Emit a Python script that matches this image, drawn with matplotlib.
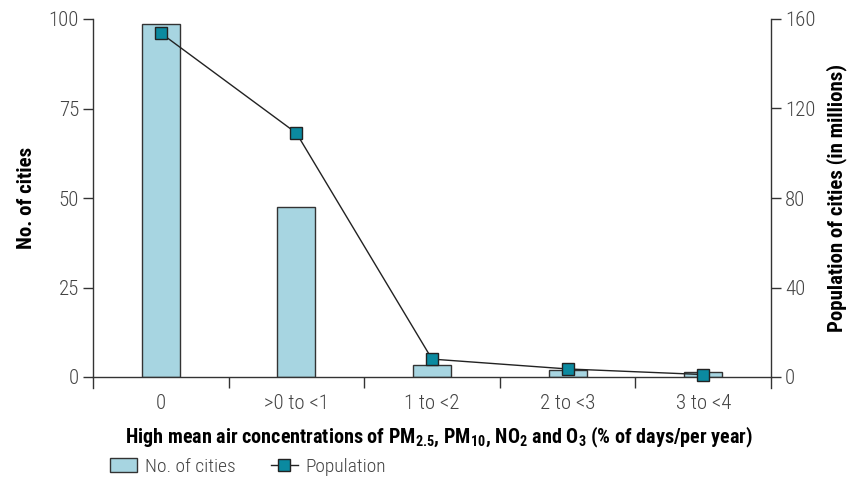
import matplotlib.pyplot as plt

# fuentes condensadas, con DejaVu como respaldo
plt.rcParams['font.family'] = ['Roboto Condensed', 'Open Sans Condensed', 'Barlow Semi Condensed',
                               'Liberation Sans Narrow', 'DejaVu Sans']
plt.rcParams['font.stretch'] = 'condensed'
plt.rcParams['mathtext.default'] = 'regular'

categories = ['0', '>0 to <1', '1 to <2', '2 to <3', '3 to <4']
cities = [98.5, 47.5, 3.4, 2.0, 1.4]
population = [153.7, 109.0, 8.0, 3.6, 1.1]

bar_color = '#a7d5e1'
marker_color = '#0b8aa0'
edge = '#333333'
tick_col = '#444444'

fig = plt.figure(figsize=(8.49, 4.8), dpi=100)
ax = fig.add_axes([93/849, 1 - 377/480, (771 - 93)/849, 358/480])
ax2 = ax.twinx()

x = range(len(categories))
bars = ax.bar(x, cities, width=0.28, color=bar_color, edgecolor=edge, linewidth=1, label='No. of cities')
line, = ax2.plot(x, population, color='#222222', linewidth=1, marker='s', markersize=8,
                 markerfacecolor=marker_color, markeredgecolor='#222222', markeredgewidth=1,
                 label='Population', clip_on=False)

ax.set_xlim(-0.5, 4.5)
ax.set_ylim(0, 100)
ax2.set_ylim(0, 160)
ax.set_yticks([0, 25, 50, 75, 100])
ax2.set_yticks([0, 40, 80, 120, 160])

# etiquetas en el centro, marcas en los limites
ax.set_xticks(list(x))
ax.set_xticklabels(categories)
ax.set_xticks([0.5, 1.5, 2.5, 3.5], minor=True)
ax.tick_params(axis='x', which='major', length=0, pad=12, labelsize=15, labelcolor=tick_col)
ax.tick_params(axis='x', which='minor', length=8, width=1, color=edge, direction='out')
ax.tick_params(axis='y', length=7, width=1, color=edge, labelsize=15, labelcolor=tick_col, pad=3)
ax2.tick_params(axis='y', length=7, width=1, color=edge, labelsize=15, labelcolor=tick_col, pad=3)
for lab in ax.get_xticklabels() + ax.get_yticklabels() + ax2.get_yticklabels():
    lab.set_fontweight('light')

for a in (ax, ax2):
    a.spines['top'].set_visible(False)
    for s in ('left', 'right', 'bottom'):
        a.spines[s].set_color(edge)
        a.spines[s].set_linewidth(1)
ax.spines['right'].set_visible(False)
ax2.spines['left'].set_visible(False)
ax2.spines['bottom'].set_visible(False)
ax.spines['left'].set_bounds(-3, 100)
ax2.spines['right'].set_bounds(-4.8, 160)

ax.set_ylabel('No. of cities', fontsize=15, fontweight='bold', labelpad=9)
ax2.set_ylabel('Population of cities (in millions)', fontsize=15, fontweight='bold',
               rotation=90, labelpad=8)
ax.set_xlabel('High mean air concentrations of PM$_{2.5}$, PM$_{10}$, NO$_{2}$ and O$_{3}$ (% of days/per year)',
              fontsize=14.5, fontweight='bold', labelpad=10)
ax.xaxis.set_label_coords(0.51, -0.135)

leg = fig.legend([bars, line], ['No. of cities', 'Population'], loc='center left',
                 bbox_to_anchor=(110/849, 1 - 467/480), ncol=2, frameon=False, fontsize=14,
                 handlelength=1.4, handletextpad=0.4, columnspacing=1.8, labelcolor=tick_col,
                 borderaxespad=0, borderpad=0)
for t in leg.get_texts():
    t.set_fontweight('light')

plt.savefig('out.png')
